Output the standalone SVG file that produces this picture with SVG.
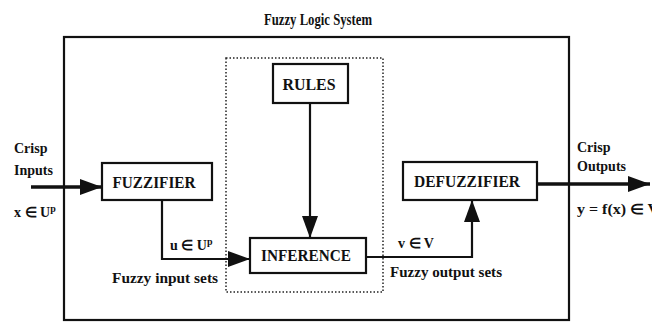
<svg xmlns="http://www.w3.org/2000/svg" width="652" height="325" viewBox="0 0 652 325">
<style>
text{font-family:"Liberation Serif","Times New Roman",serif;fill:#111}
.bl{font-weight:bold;font-size:17px}
.lb{font-size:14px;font-weight:bold}
.box{fill:#fff;stroke:#111;stroke-width:2.2}
.ln{fill:none;stroke:#111;stroke-width:2.2}
.thick{fill:none;stroke:#111;stroke-width:3.5}
</style>
<defs>
<marker id="ah" markerUnits="userSpaceOnUse" markerWidth="24" markerHeight="18" refX="22" refY="9" orient="auto">
<path d="M0,1 L22,9 L0,17 Z" fill="#111"/>
</marker>
</defs>
<rect width="652" height="325" fill="#fff"/>
<text x="318" y="25" text-anchor="middle" class="bl" font-size="16" textLength="108" lengthAdjust="spacingAndGlyphs">Fuzzy Logic System</text>
<g id="system">
<rect x="64" y="37" width="505" height="283" fill="none" stroke="#111" stroke-width="2.2"/>
</g>
<g id="inference-engine">
<rect x="226" y="58" width="157" height="234" fill="none" stroke="#222" stroke-width="1.5" stroke-dasharray="1.5,2"/>
</g>
<g id="connectors">
<line x1="31" y1="187" x2="102" y2="187" class="thick" marker-end="url(#ah)"/>
<polyline points="162,200 162,259 250,259" class="ln" marker-end="url(#ah)"/>
<line x1="310" y1="103" x2="310" y2="238" class="ln" marker-end="url(#ah)"/>
<polyline points="366,257 472,257 472,200" class="ln" marker-end="url(#ah)"/>
<line x1="537" y1="184" x2="650" y2="184" class="thick" marker-end="url(#ah)"/>
</g>
<g id="rules">
<rect x="273" y="64" width="75" height="39" class="box"/>
<text x="309" y="90" text-anchor="middle" class="bl" textLength="53" lengthAdjust="spacingAndGlyphs">RULES</text>
</g>
<g id="fuzzifier">
<rect x="102" y="163" width="110" height="37" class="box"/>
<text x="154" y="188" text-anchor="middle" class="bl" textLength="83" lengthAdjust="spacingAndGlyphs">FUZZIFIER</text>
</g>
<g id="inference">
<rect x="250" y="238" width="116" height="35" class="box"/>
<text x="306" y="261" text-anchor="middle" class="bl" textLength="90" lengthAdjust="spacingAndGlyphs">INFERENCE</text>
</g>
<g id="defuzzifier">
<rect x="403" y="162" width="134" height="38" class="box"/>
<text x="467" y="187" text-anchor="middle" class="bl" textLength="106" lengthAdjust="spacingAndGlyphs">DEFUZZIFIER</text>
</g>
<g id="labels">
<text x="14" y="153" class="lb">Crisp</text>
<text x="14" y="175" class="lb">Inputs</text>
<text x="14" y="217" class="lb">x ∈ U<tspan font-size="10" dy="-5">p</tspan></text>
<text x="170" y="250" class="lb">u ∈ U<tspan font-size="10" dy="-5">p</tspan></text>
<text x="112" y="283" class="lb" textLength="106" lengthAdjust="spacingAndGlyphs">Fuzzy input sets</text>
<text x="398" y="248" class="lb">v ∈ V</text>
<text x="390" y="277" class="lb" textLength="112" lengthAdjust="spacingAndGlyphs">Fuzzy output sets</text>
<text x="577" y="152" class="lb">Crisp</text>
<text x="577" y="171" class="lb">Outputs</text>
<text x="577" y="214" class="lb" textLength="82" lengthAdjust="spacingAndGlyphs">y = f(x) ∈ V</text>
</g>
</svg>
